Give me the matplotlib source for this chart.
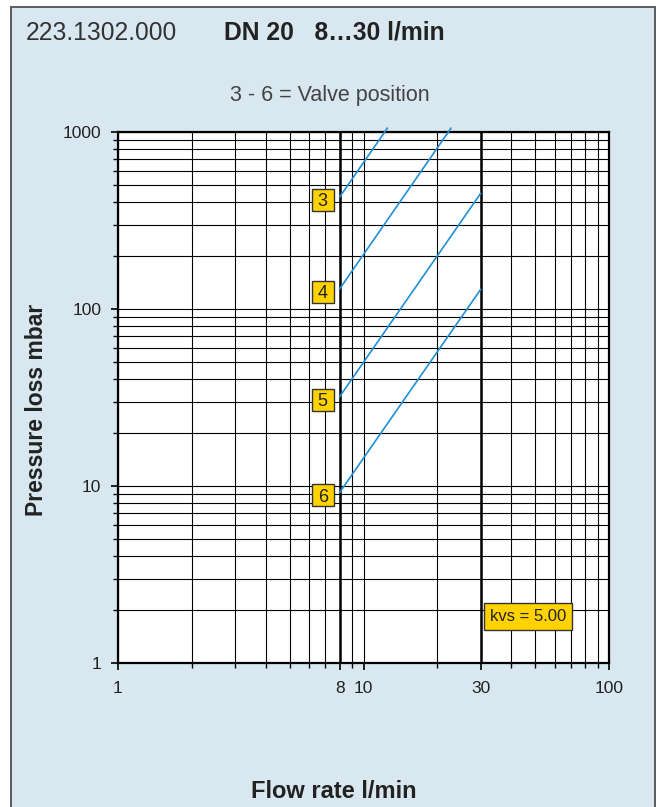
import matplotlib
matplotlib.use('Agg')
import matplotlib.pyplot as plt
from matplotlib.patches import Rectangle
from matplotlib.transforms import offset_copy
from matplotlib.ticker import FixedLocator, FixedFormatter, LogLocator, NullFormatter

FONT = ['Liberation Sans', 'DejaVu Sans']
plt.rcParams['font.family'] = FONT

# Valve positions and their pressure-loss lines (two end points each, log-log straight)
positions = ['3', '4', '5', '6']
flow_start = [8, 8, 8, 8]            # l/min
flow_end = [12.5, 22.7, 30, 30]      # l/min
dp_start = [430, 130, 32, 9.2]       # mbar
dp_end = [1050, 1050, 450, 129]      # mbar

flow_range = [8, 30]                 # nominal flow range, l/min
x_ticks = [1, 8, 10, 30, 100]
y_ticks = [1, 10, 100, 1000]
kvs = 5.00

BG = '#d8e7f0'
YELLOW = '#ffd200'
BLUE = '#1f8fd6'

W, H = 656, 807
fig = plt.figure(figsize=(W / 100, H / 100), dpi=100, facecolor='white')

# light-blue panel with a grey frame
panel = Rectangle((11 / W, -0.05), (655 - 11) / W, 1.05 - 7 / H,
                  transform=fig.transFigure, facecolor=BG,
                  edgecolor='#5c5c5c', linewidth=1.4, zorder=0)
fig.add_artist(panel)

ax = fig.add_axes([118 / W, (H - 663) / H, (609 - 118) / W, (663 - 132) / H])
ax.set_facecolor('white')
ax.set_xscale('log')
ax.set_yscale('log')
ax.set_xlim(1, 100)
ax.set_ylim(1, 1000)

ax.xaxis.set_major_locator(FixedLocator(x_ticks))
ax.xaxis.set_major_formatter(FixedFormatter([str(v) for v in x_ticks]))
ax.xaxis.set_minor_locator(LogLocator(base=10, subs=range(2, 10)))
ax.xaxis.set_minor_formatter(NullFormatter())
ax.yaxis.set_major_locator(FixedLocator(y_ticks))
ax.yaxis.set_major_formatter(FixedFormatter([str(v) for v in y_ticks]))
ax.yaxis.set_minor_locator(LogLocator(base=10, subs=range(2, 10)))
ax.yaxis.set_minor_formatter(NullFormatter())

ax.grid(True, which='both', color='black', linewidth=0.8)
ax.set_axisbelow(True)
for q in flow_range:
    ax.axvline(q, color='black', linewidth=1.8, zorder=1.5)

for s in ax.spines.values():
    s.set_linewidth(1.6)
ax.tick_params(which='major', direction='out', length=5, width=1.2,
               labelsize=12.5, colors='black', labelcolor='#222222')
ax.tick_params(which='minor', direction='out', length=3.5, width=1.0)
ax.tick_params(axis='x', which='major', pad=8)
ax.tick_params(axis='y', which='major', pad=7)

for lab, fs, fe, ps, pe in zip(positions, flow_start, flow_end, dp_start, dp_end):
    ax.plot([fs, fe], [ps, pe], color=BLUE, linewidth=1.2, clip_on=False, zorder=3)
    box_tr = offset_copy(ax.transData, fig=fig, x=-17, y=-3, units='dots')
    txt_tr = offset_copy(ax.transData, fig=fig, x=-17, y=-9.3, units='dots')
    ax.plot([fs], [ps], marker='s', markersize=15.5, markerfacecolor=YELLOW,
            markeredgecolor='#333333', markeredgewidth=1.0, transform=box_tr,
            clip_on=False, zorder=4)
    ax.text(fs, ps, lab, transform=txt_tr, ha='center', va='baseline',
            fontsize=13, color='#222222', zorder=5)

ax.text(0.835, 0.087, f'kvs = {kvs:.2f}', transform=ax.transAxes,
        ha='center', va='center', fontsize=12, color='#222222', zorder=5,
        bbox=dict(boxstyle='square,pad=0.36', facecolor=YELLOW,
                  edgecolor='#333333', linewidth=1.0))

ax.set_xlabel('Flow rate l/min', fontsize=17, fontweight='bold', color='#222222',
              va='center')
ax.xaxis.set_label_coords(0.44, -0.242)
ax.set_ylabel('Pressure loss mbar', fontsize=16.5, fontweight='bold', color='#222222',
              va='center')
ax.yaxis.set_label_coords(-0.167, 0.476)

fig.text(26 / W, 1 - 33 / H, '223.1302.000', fontsize=17.7, color='#333333',
         ha='left', va='center')
fig.text(224 / W, 1 - 33 / H, 'DN 20   8\u202630 l/min', fontsize=17.7,
         fontweight='bold', color='#222222', ha='left', va='center')
fig.text(330 / W, 1 - 96 / H, '3 - 6 = Valve position', fontsize=15.5,
         color='#444444', ha='center', va='center')

fig.savefig('out.png', dpi=100, facecolor=fig.get_facecolor())
